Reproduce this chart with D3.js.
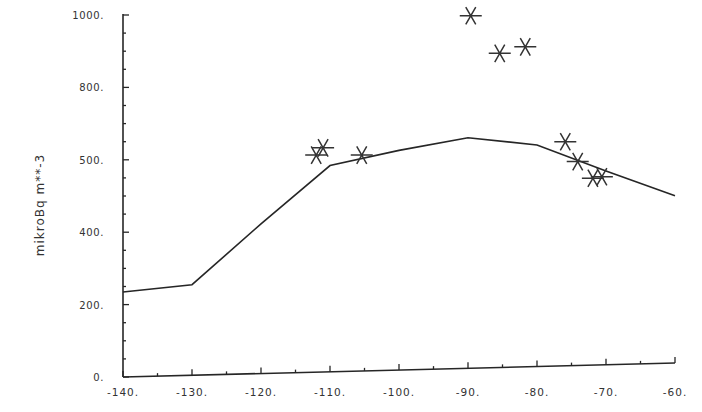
<!DOCTYPE html>
<html>
<head>
<meta charset="utf-8">
<script src="https://cdn.jsdelivr.net/npm/d3@7"></script>
<style>
  html, body { margin: 0; padding: 0; background: #fff; }
  svg { display: block; }
  text { font-family: "DejaVu Sans", sans-serif; fill: #333; }
</style>
</head>
<body>
<svg id="chart" width="702" height="412"></svg>
<script>
// ---- data ----
const lineX = [-140, -130, -120, -110, -100, -90, -80, -70, -60];
const lineY = [235, 255, 423, 584, 626, 661, 641, 569, 501];

const starX = [-112, -111, -105.4, -89.6, -85.4, -81.7, -75.9, -74.1, -71.9, -70.6];
const starY = [613, 633, 613, 998, 894, 912, 650, 595, 549, 553];

const xTicks = [-140, -130, -120, -110, -100, -90, -80, -70, -60];
const xTickLabels = ["-140.", "-130.", "-120.", "-110.", "-100.", "-90.", "-80.", "-70.", "-60."];
const yTicks = [0, 200, 400, 600, 800, 1000];
const yTickLabels = ["0.", "200.", "400.", "500.", "800.", "1000."];
const yLabel = "mikroBq m**-3";

// ---- layout ----
const svg = d3.select("#chart");
const x = d3.scaleLinear().domain([-140, -60]).range([123, 675]);
const y = d3.scaleLinear().domain([0, 1000]).range([377, 15]);
const ink = "#262626";

// slanted x axis (the plotted baseline rises to the right)
const slope = -14 / 552;
const skewDeg = Math.atan(slope) * 180 / Math.PI;
const xAxisG = svg.append("g")
  .attr("transform", `translate(123,377) skewY(${skewDeg}) translate(-123,0)`);
xAxisG.append("line")
  .attr("x1", x(-140)).attr("x2", x(-60)).attr("y1", 0).attr("y2", 0)
  .attr("stroke", ink).attr("stroke-width", 1.6);
const xMinor = d3.range(-140, -59, 5);
xAxisG.selectAll("line.xt").data(xMinor).join("line")
  .attr("class", "xt")
  .attr("x1", d => x(d)).attr("x2", d => x(d))
  .attr("y1", 0).attr("y2", d => (d % 10 === 0 ? -6 : -3))
  .attr("stroke", ink).attr("stroke-width", 1.3);

// x tick labels (horizontal)
svg.append("g").selectAll("text").data(xTicks).join("text")
  .attr("x", d => x(d)).attr("y", 396)
  .attr("text-anchor", "middle")
  .attr("font-size", 10.5).attr("letter-spacing", 1)
  .text((d, i) => xTickLabels[i]);

// y axis
const yAxisG = svg.append("g");
yAxisG.append("line")
  .attr("x1", 123).attr("x2", 123).attr("y1", y(1000) - 1).attr("y2", y(0))
  .attr("stroke", ink).attr("stroke-width", 1.6);
const yMinor = d3.range(0, 1001, 50);
yAxisG.selectAll("line.yt").data(yMinor).join("line")
  .attr("class", "yt")
  .attr("x1", 123).attr("x2", d => 123 + (d % 200 === 0 ? 6 : 3))
  .attr("y1", d => y(d)).attr("y2", d => y(d))
  .attr("stroke", ink).attr("stroke-width", 1.3);
yAxisG.selectAll("text").data(yTicks).join("text")
  .attr("x", 104).attr("y", d => y(d) + 4)
  .attr("text-anchor", "end")
  .attr("font-size", 10).attr("letter-spacing", 0.6)
  .text((d, i) => yTickLabels[i]);

// y label
svg.append("text")
  .attr("transform", `translate(44,205) rotate(-90)`)
  .attr("text-anchor", "middle")
  .attr("font-size", 12).attr("letter-spacing", 1)
  .text(yLabel);

// line
const pts = lineX.map((d, i) => [d, lineY[i]]);
svg.append("path")
  .datum(pts)
  .attr("d", d3.line().x(d => x(d[0])).y(d => y(d[1])))
  .attr("fill", "none").attr("stroke", ink).attr("stroke-width", 1.6);

// asterisk markers
const starPts = starX.map((d, i) => [d, starY[i]]);
const rH = 11, rD = 10, a = Math.PI / 3;
const starPath = `M${-rH},0L${rH},0` +
  `M${-rD * Math.cos(a)},${-rD * Math.sin(a)}L${rD * Math.cos(a)},${rD * Math.sin(a)}` +
  `M${rD * Math.cos(a)},${-rD * Math.sin(a)}L${-rD * Math.cos(a)},${rD * Math.sin(a)}`;
svg.append("g").selectAll("path").data(starPts).join("path")
  .attr("transform", d => `translate(${x(d[0])},${y(d[1])})`)
  .attr("d", starPath)
  .attr("fill", "none").attr("stroke", "#333").attr("stroke-width", 1.5);
</script>
</body>
</html>
